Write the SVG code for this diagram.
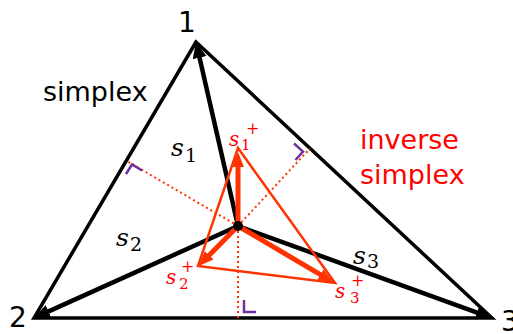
<svg xmlns="http://www.w3.org/2000/svg" width="513" height="334" viewBox="0 0 513 334">
<style>
.lbl{font-family:"DejaVu Sans",Verdana,sans-serif;font-size:28px;fill:#000}
.word{font-family:"DejaVu Sans",Verdana,sans-serif;font-size:27px}
.sv{font-family:"DejaVu Serif",Cambria,serif;font-style:italic}
.sub{font-family:"DejaVu Serif",Cambria,serif}
.edge{stroke:#000;stroke-width:3.5;fill:none;stroke-linejoin:miter}
.bar{stroke:#000;stroke-width:4.5;fill:none}
.rbar{stroke:#ff3300;stroke-width:5;fill:none}
.tri{stroke:#ff3300;stroke-width:2.5;fill:none;stroke-linejoin:miter}
.dot{stroke:#ff3300;stroke-width:2;stroke-dasharray:2 3;fill:none}
.ra{stroke:#7030a0;stroke-width:2.5;fill:none}
</style>
<defs>
<marker id="ab" markerUnits="userSpaceOnUse" markerWidth="18" markerHeight="16" refX="6" refY="7" orient="auto">
<path d="M0,0 L16,7 L0,14 z" fill="#000"/>
</marker>
<marker id="ar" markerUnits="userSpaceOnUse" markerWidth="16" markerHeight="14" refX="6" refY="6" orient="auto">
<path d="M0,0 L15,6 L0,12 z" fill="#ff3300"/>
</marker>
</defs>
<rect width="513" height="334" fill="#fff"/>
<g id="simplex">
<path class="edge" d="M196,42 L34,318 L492,318 Z"/>
</g>
<g id="connectors">
<line class="dot" x1="238" y1="226" x2="126.3" y2="160.7"/>
<line class="dot" x1="238" y1="226" x2="310" y2="148.5"/>
<line class="dot" x1="238" y1="226" x2="238" y2="318"/>
<line class="bar" x1="238" y1="226" x2="198.2" y2="51.8" marker-end="url(#ab)"/>
<line class="bar" x1="238" y1="226" x2="43.1" y2="313.9" marker-end="url(#ab)"/>
<line class="bar" x1="238" y1="226" x2="482.6" y2="314.6" marker-end="url(#ab)"/>
<g id="inverse-simplex">
<path class="tri" d="M238,148 L198,266 L335,283 Z"/>
</g>
<line class="rbar" x1="238" y1="226" x2="238" y2="161" marker-end="url(#ar)"/>
<line class="rbar" x1="238" y1="226" x2="205" y2="259.5" marker-end="url(#ar)"/>
<line class="rbar" x1="238" y1="226" x2="325.5" y2="277.6" marker-end="url(#ar)"/>
</g>
<g id="right-angles">
<path class="ra" d="M126,174 L132,164.5 L142,170.5"/>
<path class="ra" d="M294,143.5 L303,151.5 L295.5,160"/>
<path class="ra" d="M244,300 L244,312 L256,312"/>
</g>
<g id="center"><circle cx="238" cy="226" r="5" fill="#000"/></g>
<g id="vertex-1"><text class="lbl" x="187" y="32" text-anchor="middle">1</text></g>
<g id="vertex-2"><text class="lbl" x="18" y="327" text-anchor="middle">2</text></g>
<g id="vertex-3"><text class="lbl" x="510" y="331" text-anchor="middle">3</text></g>
<g id="label-simplex"><text class="word" x="43" y="101" fill="#000">simplex</text></g>
<g id="label-inverse"><text class="word" x="360" y="149" fill="#f00">inverse</text><text class="word" x="360" y="184" fill="#f00">simplex</text></g>
<g id="s1"><text class="sv" x="171" y="156" font-size="25">s</text><text class="sub" x="185" y="162" font-size="19">1</text></g>
<g id="s2"><text class="sv" x="116" y="246" font-size="25">s</text><text class="sub" x="130" y="251" font-size="19">2</text></g>
<g id="s3"><text class="sv" x="353" y="264" font-size="25">s</text><text class="sub" x="367" y="268" font-size="19">3</text></g>
<g id="s1p" fill="#f00"><text class="sv" x="229" y="146" font-size="20">s</text><text class="sub" x="241" y="150" font-size="15">1</text><text class="sub" x="246" y="134" font-size="16">+</text></g>
<g id="s2p" fill="#f00"><text class="sv" x="166" y="284" font-size="20">s</text><text class="sub" x="179" y="289" font-size="15">2</text><text class="sub" x="181" y="272" font-size="16">+</text></g>
<g id="s3p" fill="#f00"><text class="sv" x="335" y="298" font-size="20">s</text><text class="sub" x="350" y="303" font-size="15">3</text><text class="sub" x="351" y="286" font-size="16">+</text></g>
</svg>
